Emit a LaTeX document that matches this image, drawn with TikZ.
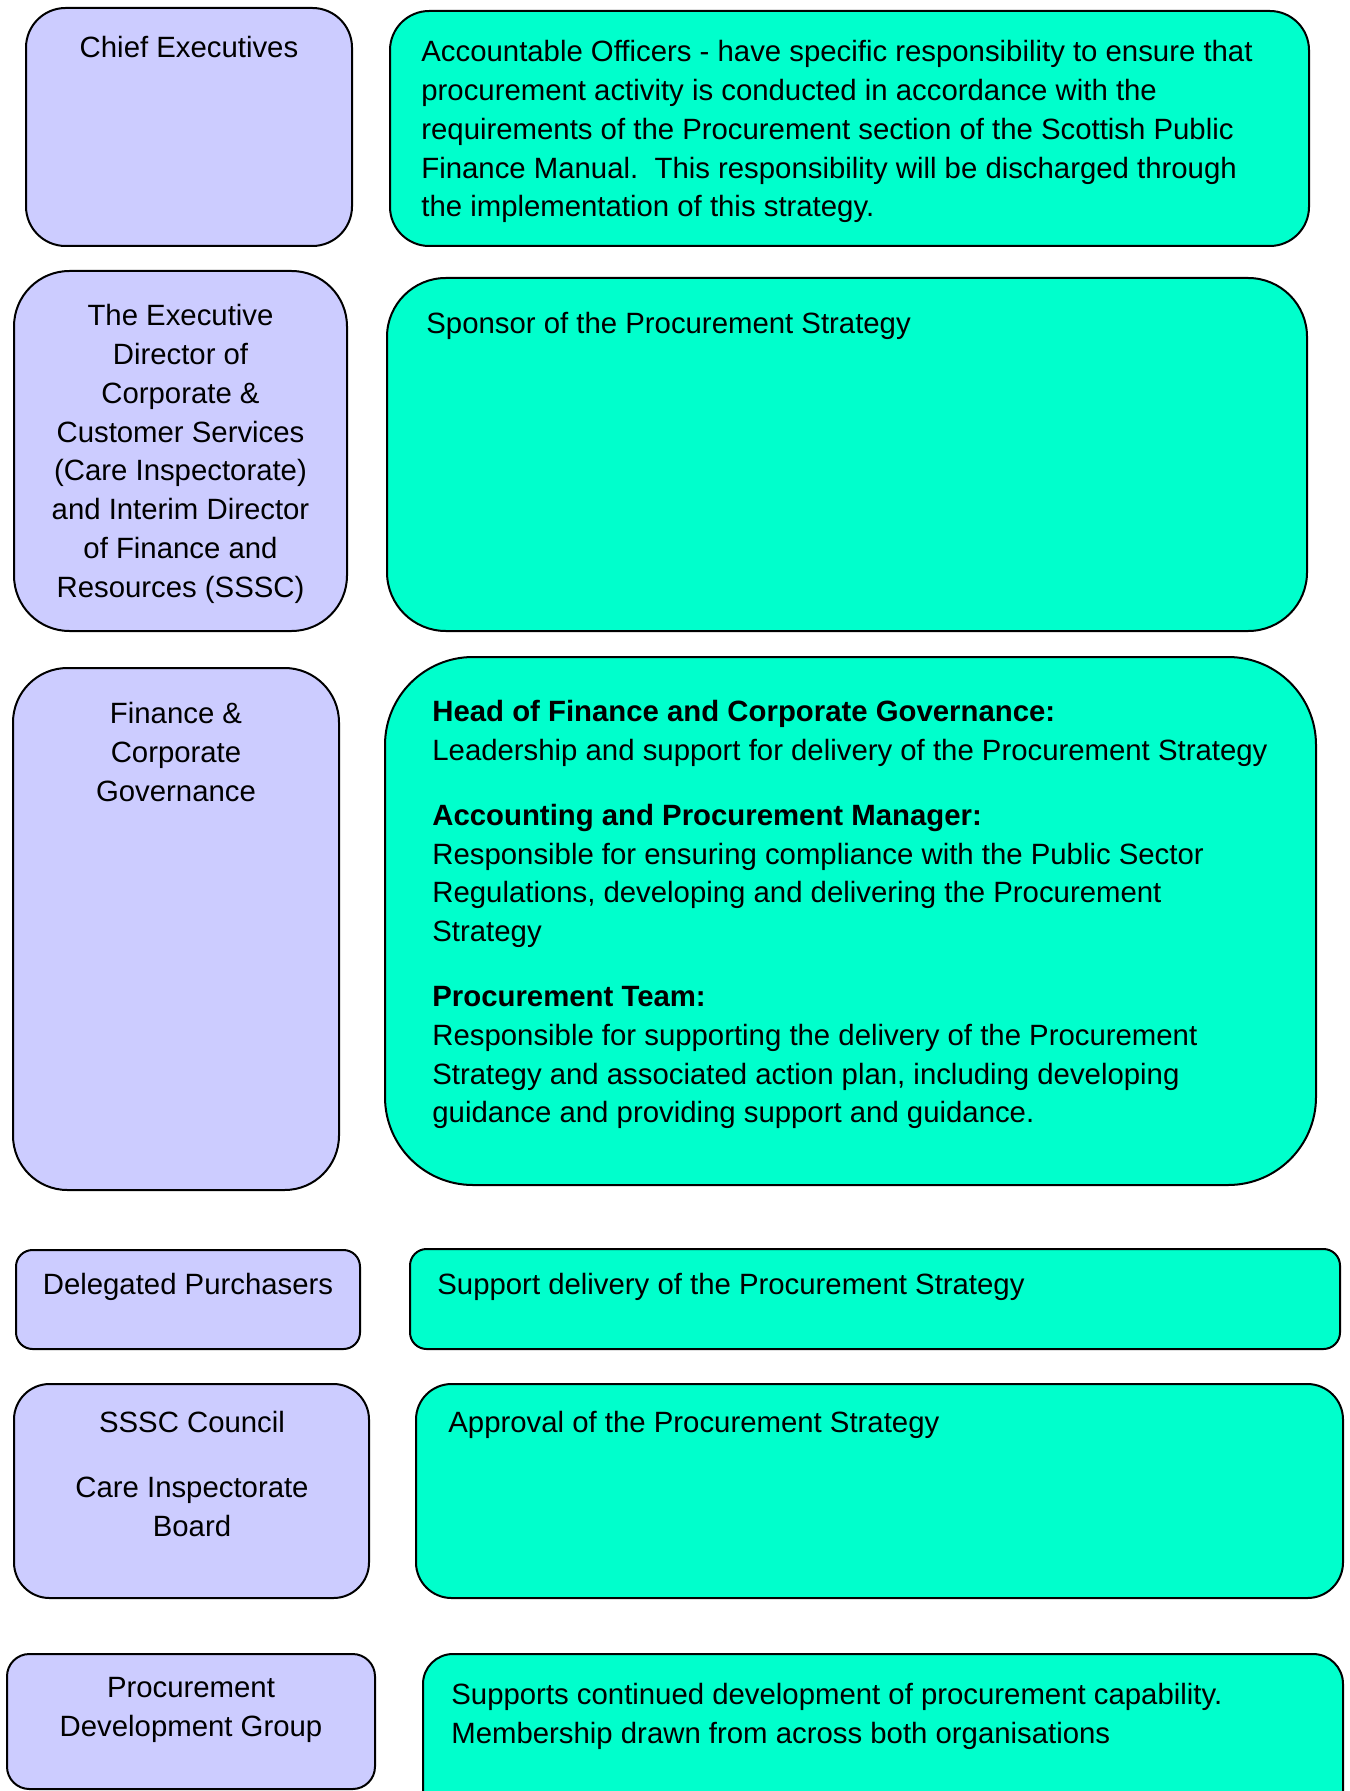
\documentclass[tikz,border=0pt]{standalone}
\usepackage{fontspec}
\setmainfont{Liberation Sans}
\definecolor{lilac}{HTML}{CCCCFF}
\definecolor{aqua}{HTML}{00FFCC}
\begin{document}
\begin{tikzpicture}[x=0.5pt,y=-0.5pt,
    who/.style={draw=black,line width=1pt,fill=lilac,inner sep=0pt},
    role/.style={draw=black,line width=1pt,fill=aqua,inner sep=0pt},
    txt/.style={inner sep=0pt,font=\fontsize{14.67pt}{19.4pt}\selectfont}]
    \useasboundingbox (0,0) rectangle (1349,1791);
    % left column
    \node[who,minimum width=163pt,minimum height=119pt,rounded corners=19.8pt] (chief) at (189,127) {};
    \node[who,minimum width=166.5pt,minimum height=180pt,rounded corners=27.7pt] (director) at (180.5,451) {};
    \node[who,minimum width=163pt,minimum height=261pt,rounded corners=27.2pt] (finance) at (176,929) {};
    \node[who,minimum width=172pt,minimum height=49.5pt,rounded corners=8.3pt] (delegated) at (188,1299.5) {};
    \node[who,minimum width=177.5pt,minimum height=107pt,rounded corners=17.8pt] (council) at (191.5,1491) {};
    \node[who,minimum width=184pt,minimum height=67.5pt,rounded corners=11.2pt] (pdg) at (191,1721.5) {};
    % right column
    \node[role,minimum width=459.5pt,minimum height=117.5pt,rounded corners=19.6pt] (chiefrole) at (849.5,128.5) {};
    \node[role,minimum width=460pt,minimum height=176.5pt,rounded corners=29.4pt] (directorrole) at (847,454.5) {};
    \node[role,minimum width=465.5pt,minimum height=264pt,rounded corners=44pt] (financerole) at (850.5,921) {};
    \node[role,minimum width=465pt,minimum height=50pt,rounded corners=8.3pt] (delegatedrole) at (875,1299) {};
    \node[role,minimum width=463.5pt,minimum height=107pt,rounded corners=17.8pt] (councilrole) at (879.5,1491) {};
    \node[role,minimum width=460pt,minimum height=90pt,rounded corners=15pt] (pdgrole) at (883,1744) {};
    % texts
    \node[txt,anchor=north] (chieftxt) at (189,36) {Chief Executives};
    \node[txt,anchor=north,align=center] (directortxt) at (180.5,304) {The Executive\\Director of\\Corporate \&\\Customer Services\\(Care Inspectorate)\\and Interim Director\\of Finance and\\Resources (SSSC)};
    \node[txt,anchor=north,align=center] (financetxt) at (176,702) {Finance \&\\Corporate\\Governance};
    \node[txt,anchor=north] (delegatedtxt) at (188,1273) {Delegated Purchasers};
    \node[txt,anchor=north,align=center] (counciltxt) at (192,1411) {SSSC Council\\[13pt]Care Inspectorate\\Board};
    \node[txt,anchor=north,align=center] (pdgtxt) at (191,1677) {Procurement\\Development Group};
    \node[txt,anchor=north west,align=left] (chiefroletxt) at (421,40) {Accountable Officers - have specific responsibility to ensure that\\procurement activity is conducted in accordance with the\\requirements of the Procurement section of the Scottish Public\\Finance Manual.\ \ This responsibility will be discharged through\\the implementation of this strategy.};
    \node[txt,anchor=north west] (directorroletxt) at (426,312) {Sponsor of the Procurement Strategy};
    \node[txt,anchor=north west,align=left] (financeroletxt) at (432,700) {\textbf{Head of Finance and Corporate Governance:}\\Leadership and support for delivery of the Procurement Strategy\\[13pt]\textbf{Accounting and Procurement Manager:}\\Responsible for ensuring compliance with the Public Sector\\Regulations, developing and delivering the Procurement\\Strategy\\[13pt]\textbf{Procurement Team:}\\Responsible for supporting the delivery of the Procurement\\Strategy and associated action plan, including developing\\guidance and providing support and guidance.};
    \node[txt,anchor=north west] (delegatedroletxt) at (437,1273) {Support delivery of the Procurement Strategy};
    \node[txt,anchor=north west] (councilroletxt) at (448,1411) {Approval of the Procurement Strategy};
    \node[txt,anchor=north west,align=left] (pdgroletxt) at (451,1683) {Supports continued development of procurement capability.\\Membership drawn from across both organisations};
\end{tikzpicture}
\end{document}
